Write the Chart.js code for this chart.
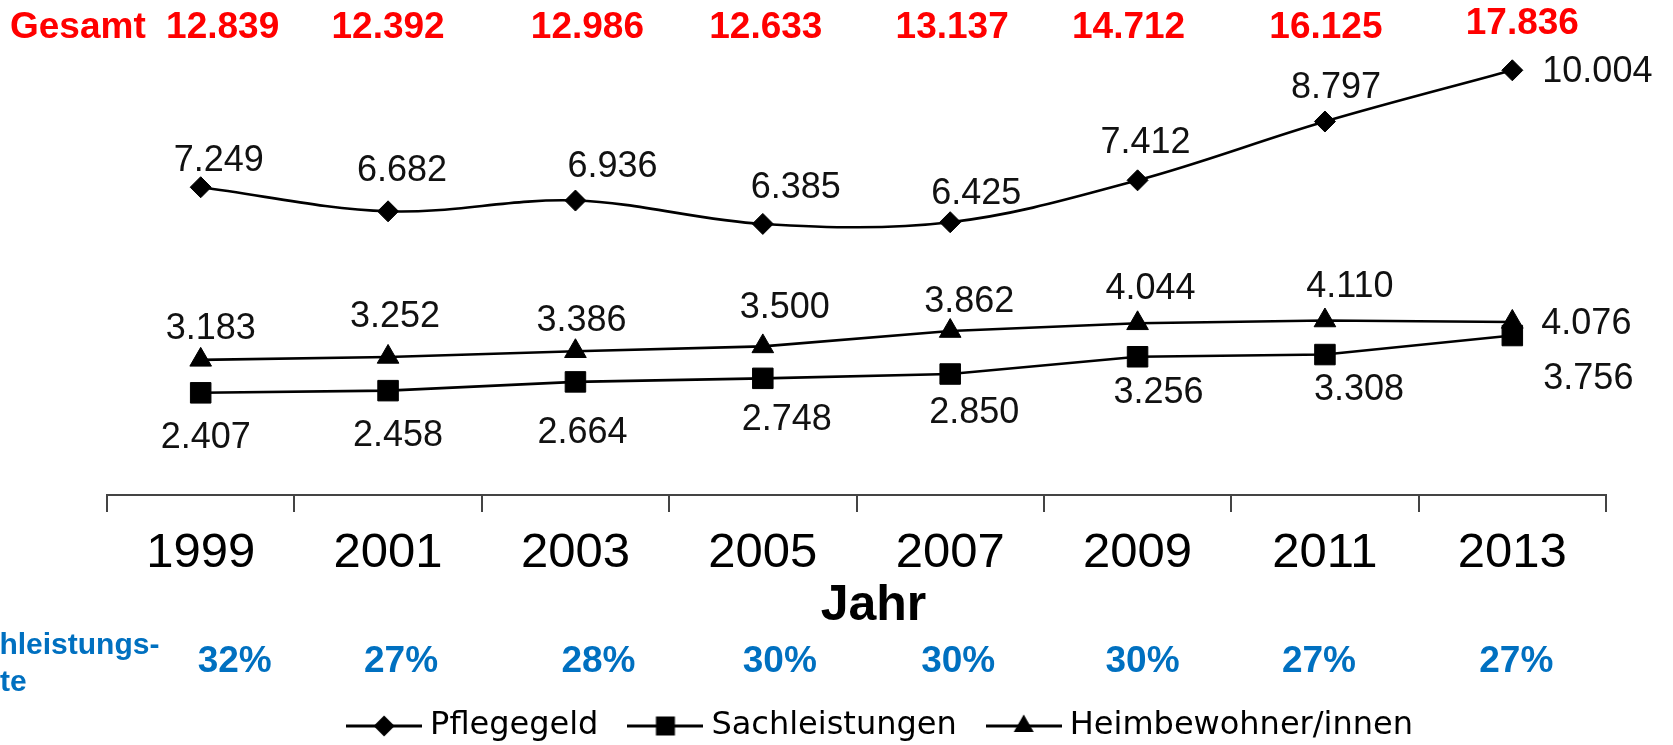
<!DOCTYPE html>
<html lang="de">
<head>
<meta charset="utf-8">
<title>Pflegegeld, Sachleistungen, Heimbewohner/innen</title>
<script src="https://cdn.jsdelivr.net/npm/chart.js@4.4.1/dist/chart.umd.min.js"></script>
<style>
  html, body { margin: 0; padding: 0; background: #fff; }
  #wrap { position: relative; width: 1673px; height: 745px; }
</style>
</head>
<body>
<div id="wrap"><canvas id="chart" width="1673" height="745"></canvas></div>
<script>
  const years = ['1999', '2001', '2003', '2005', '2007', '2009', '2011', '2013'];
  const pflegegeld = [7249, 6682, 6936, 6385, 6425, 7412, 8797, 10004];
  const sachleistungen = [2407, 2458, 2664, 2748, 2850, 3256, 3308, 3756];
  const heimbewohner = [3183, 3252, 3386, 3500, 3862, 4044, 4110, 4076];
  const gesamt = [12839, 12392, 12986, 12633, 13137, 14712, 16125, 17836];
  const sachQuote = [32, 27, 28, 30, 30, 30, 27, 27];

  // label nudges [dx, dy] in px, placed by hand like in the original; the last one sits right of the point
  const pflegeNudge = [[18, -26], [14, -40], [37, -33], [33, -36], [26, -28], [8, -37], [11, -33], [30, 2]];
  const heimNudge = [[10, -31], [7, -40], [6, -30], [22, -38], [19, -29], [13, -34], [25, -33], [29, 2]];
  const sachNudge = [[5, 45], [10, 45], [7, 51], [24, 42], [24, 39], [21, 36], [34, 36], [31, 44]];
  const gesamtNudge = [22, 0, 12, 3, 2, -9, 1, 10];
  const quoteNudge = [34, 13, 23, 17, 8, 5, -6, 4];

  const FONT = '"Liberation Sans", Arial, sans-serif';
  const LEGEND_SHIFT = 27;

  const fmt = v => String(v).replace(/\B(?=(\d{3})+(?!\d))/g, '.');

  // small "line + marker" pictures for the legend
  const legendGlyph = shape => {
    const c = document.createElement('canvas');
    c.width = 76; c.height = 24;
    const g = c.getContext('2d');
    g.strokeStyle = '#000'; g.fillStyle = '#000'; g.lineWidth = 3;
    g.beginPath(); g.moveTo(0, 12); g.lineTo(76, 12); g.stroke();
    g.beginPath();
    if (shape === 'rectRot') { g.moveTo(38, 1.5); g.lineTo(48.5, 12); g.lineTo(38, 22.5); g.lineTo(27.5, 12); }
    else if (shape === 'rect') { g.rect(28.5, 2.5, 19, 19); }
    else { g.moveTo(38, 0.5); g.lineTo(48, 18); g.lineTo(28, 18); }
    g.closePath(); g.fill();
    return c;
  };
  const glyphs = [legendGlyph('rectRot'), legendGlyph('rect'), legendGlyph('triangle')];

  const lineDs = (label, data, style, radius, tension) => ({
    label, data,
    borderColor: '#000', backgroundColor: '#000', borderWidth: 2.6,
    pointStyle: style, pointRadius: radius, pointHoverRadius: radius,
    pointBackgroundColor: '#000', pointBorderColor: '#000', pointBorderWidth: 1,
    tension, clip: false
  });

  const annotate = {
    id: 'annotate',
    afterLayout(chart) {
      chart.legend.left += LEGEND_SHIFT;
      chart.legend.right += LEGEND_SHIFT;
    },
    afterDraw(chart) {
      const { ctx, chartArea } = chart;
      const x = chart.scales.x;
      ctx.save();

      // values next to the points
      ctx.font = `36px ${FONT}`;
      ctx.fillStyle = '#111';
      ctx.textBaseline = 'middle';
      [[0, pflegeNudge], [1, sachNudge], [2, heimNudge]].forEach(([di, nudge]) => {
        const vals = chart.data.datasets[di].data;
        chart.getDatasetMeta(di).data.forEach((pt, i) => {
          ctx.textAlign = i === vals.length - 1 ? 'left' : 'center';
          ctx.fillText(fmt(vals[i]), pt.x + nudge[i][0], pt.y + nudge[i][1]);
        });
      });

      // axis title, sits a bit right of the plot centre in the original
      ctx.font = `bold 50px ${FONT}`;
      ctx.fillStyle = '#000';
      ctx.textAlign = 'center';
      ctx.fillText('Jahr', (chartArea.left + chartArea.right) / 2 + 17, 606);

      // Gesamt row
      ctx.font = `bold 37px ${FONT}`;
      ctx.fillStyle = '#ff0000';
      ctx.textAlign = 'left';
      ctx.fillText('Gesamt', 10, 28);
      ctx.textAlign = 'center';
      gesamt.forEach((v, i) => {
        ctx.fillText(fmt(v), x.getPixelForValue(i) + gesamtNudge[i], i === gesamt.length - 1 ? 24 : 28);
      });

      // Sachleistungsquote row
      ctx.fillStyle = '#0070c0';
      sachQuote.forEach((v, i) => {
        ctx.fillText(v + '%', x.getPixelForValue(i) + quoteNudge[i], 662);
      });
      ctx.font = `bold 30px ${FONT}`;
      ctx.textAlign = 'left';
      ctx.textBaseline = 'alphabetic';
      ctx.fillText('Sachleistungs-', -54, 654);
      ctx.fillText('quote', -55, 691);

      ctx.restore();
    }
  };

  new Chart(document.getElementById('chart'), {
    type: 'line',
    data: {
      labels: years,
      datasets: [
        lineDs('Pflegegeld', pflegegeld, 'rectRot', 10.5, 0.35),
        lineDs('Sachleistungen', sachleistungen, 'rect', 14.5, 0),
        lineDs('Heimbewohner/innen', heimbewohner, 'triangle', 12.5, 0)
      ]
    },
    options: {
      responsive: false,
      animation: false,
      devicePixelRatio: 1,
      events: [],
      layout: { padding: { left: 107, right: 67, top: 28, bottom: 0 } },
      scales: {
        y: { display: false, min: 0, max: 11000 },
        x: {
          offset: true,
          grid: { display: true, offset: true, drawOnChartArea: false, drawTicks: true, tickLength: 17, color: '#444', lineWidth: 2 },
          border: { display: true, color: '#444', width: 2 },
          ticks: { color: '#000', font: { family: FONT, size: 49 }, padding: 12, maxRotation: 0, autoSkip: false },
          title: { display: false, text: 'Jahr' },
          afterFit: s => { s.height = 178; }
        }
      },
      plugins: {
        tooltip: { enabled: false },
        legend: {
          position: 'bottom',
          maxHeight: 72,
          labels: {
            usePointStyle: true,
            pointStyleWidth: 60,
            padding: 37,
            color: '#000',
            font: { family: '"DejaVu Sans", sans-serif', size: 32 },
            generateLabels: chart => chart.data.datasets.map((ds, i) => ({
              text: ds.label, pointStyle: glyphs[i], fillStyle: '#000', strokeStyle: '#000',
              lineWidth: 0, hidden: false, datasetIndex: i
            }))
          }
        }
      }
    },
    plugins: [annotate]
  });
</script>
</body>
</html>
